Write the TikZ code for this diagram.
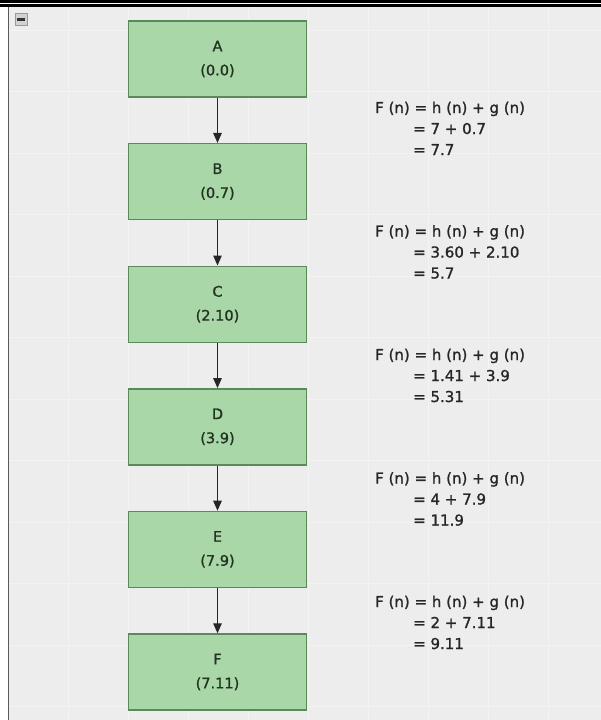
\documentclass[tikz,border=0pt]{standalone}
\usepackage{fontspec}
\setmainfont{DejaVu Sans}
\newfontfamily\labelfont[FakeBold=1.2]{DejaVu Sans}
\usetikzlibrary{arrows.meta}
\definecolor{canvas}{HTML}{EDEDED}
\definecolor{gridline}{HTML}{F3F3F3}
\definecolor{boxfill}{HTML}{A9D7A7}
\definecolor{boxline}{HTML}{5A8A5A}
\definecolor{boxtext}{HTML}{223322}
\definecolor{ink}{HTML}{262626}
\tikzset{
  statebox/.style={draw=boxline, line width=1.4pt, fill=boxfill,
    minimum width=178pt, minimum height=76pt, inner sep=0pt,
    align=center, text=boxtext, font=\labelfont\fontsize{14.5}{24}\selectfont},
  eqtext/.style={anchor=base west, inner sep=0pt, text=ink,
    font=\labelfont\fontsize{15}{17}\selectfont},
  link/.style={draw=ink, line width=1.2pt,
    -{Triangle[length=10pt,width=8.5pt]}}
}
\begin{document}
\begin{tikzpicture}[x=1pt,y=-1pt]
\useasboundingbox (0,0) rectangle (601,720);
% canvas and its faint grid
\fill[white] (0,0) rectangle (601,720);
\fill[canvas] (9,7) rectangle (601,720);
\foreach \gx in {68,128,...,600} \draw[gridline, line width=1pt] (\gx,7) -- (\gx,720);
\foreach \gy in {30,91.5,...,720} \draw[gridline, line width=1pt] (9,\gy) -- (601,\gy);
% window frame
\fill[black] (0,0) rectangle (601,3.3);
\fill[black] (0,4.3) rectangle (601,6.7);
\draw[gray!70!black, line width=1.6pt] (8.3,6.7) -- (8.3,720);
% collapse button
\draw[gray!80, fill=gray!35, line width=0.8pt] (15,13) rectangle (27,25);
\fill[gray!40!black] (17,18) rectangle (25,20.5);
% search tree chain
\foreach \n/\lbl/\v [count=\i from 0] in {A/A/0.0,B/B/0.7,C/C/2.10,D/D/3.9,E/E/7.9,F/F/7.11}
  \node[statebox] (\n) at (217.5,{59+122.6*\i}) {\lbl\\(\v)};
\foreach \p/\q in {A/B,B/C,C/D,D/E,E/F}
  \draw[link] (\p) -- (\q);
% evaluation of F(n) beside each step
\foreach \h/\s [count=\i from 0] in {7 + 0.7/7.7, 3.60 + 2.10/5.7, 1.41 + 3.9/5.31, 4 + 7.9/11.9, 2 + 7.11/9.11}{
  \node[eqtext] (f\i) at (375,{113+123.5*\i}) {F (n) = h (n) + g (n)};
  \node[eqtext] (h\i) at (413,{134+123.5*\i}) {= \h};
  \node[eqtext] (s\i) at (413,{155+123.5*\i}) {= \s};
}
\end{tikzpicture}
\end{document}
